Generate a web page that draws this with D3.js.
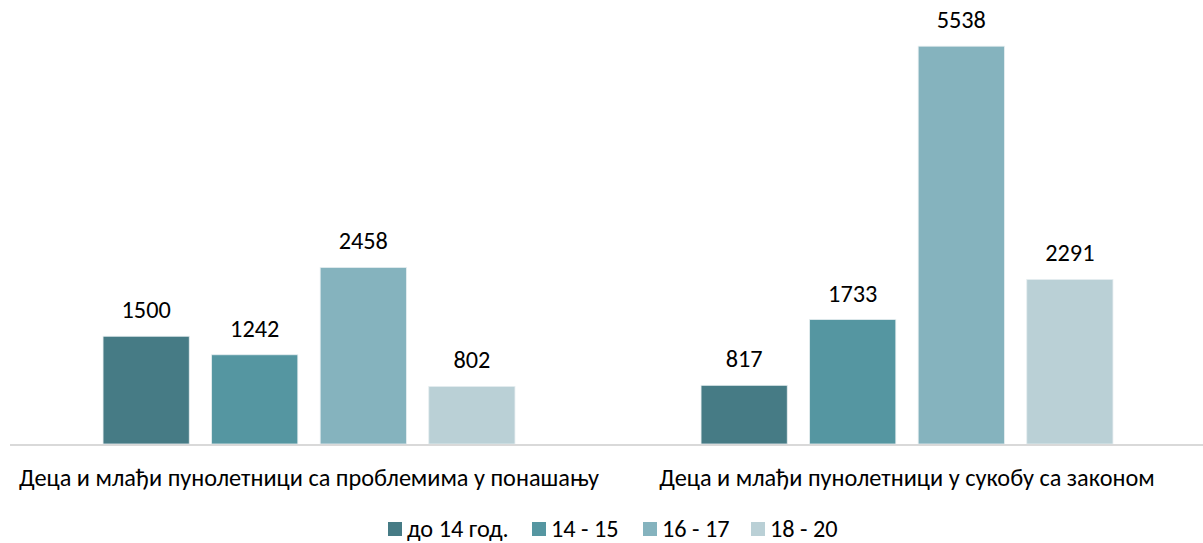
<!DOCTYPE html>
<html>
<head>
<meta charset="utf-8">
<script src="https://cdn.jsdelivr.net/npm/d3@7"></script>
<style>
  body { margin: 0; background: #fff; }
  text { font-family: Carlito, Calibri, Lato, sans-serif; fill: #000; }
</style>
</head>
<body>
<svg id="chart" width="1203" height="543"></svg>
<script>
var categories = ['Деца и млађи пунолетници са проблемима у понашању', 'Деца и млађи пунолетници у сукобу са законом']
var seriesNames = ['до 14 год.', '14 - 15', '16 - 17', '18 - 20']
var seriesColors = ['#467b85', '#5596a1', '#85b3be', '#bad0d6']
// values[series][category]
var values = [
  [1500, 817],
  [1242, 1733],
  [2458, 5538],
  [802, 2291]
]

var W = 1203
,   baseY = 444
,   topY = 13
,   fontSize = '24.3px'

var svg = d3.select('#chart')

var x0 = d3.scaleBand().domain(categories).range([10, 1206]).padding(0)
var x1 = d3.scaleBand().domain(seriesNames).range([0, x0.bandwidth()])
  .paddingInner(0.206).paddingOuter(0.857)
var y = d3.scaleLinear().domain([0, 6000]).range([baseY, topY])

var rows = []
categories.forEach((c, ci) => {
  seriesNames.forEach((s, si) => {
    rows.push({cat: c, series: s, si: si, v: values[si][ci]})
  })
})

svg.selectAll('.bar')
  .data(rows)
  .enter()
  .append('rect')
  .attr('class', 'bar')
  .attr('x', (d) => x0(d.cat) + x1(d.series))
  .attr('y', (d) => y(d.v))
  .attr('width', x1.bandwidth())
  .attr('height', (d) => baseY - y(d.v))
  .attr('fill', (d) => seriesColors[d.si])
  .attr('stroke', '#e6eef0')
  .attr('stroke-width', 0.8)

svg.selectAll('.val')
  .data(rows)
  .enter()
  .append('text')
  .attr('class', 'val')
  .attr('x', (d) => x0(d.cat) + x1(d.series) + x1.bandwidth() / 2)
  .attr('y', (d) => y(d.v) - 18)
  .attr('text-anchor', 'middle')
  .style('font-size', fontSize)
  .text((d) => d.v)

// baseline
svg.append('line')
  .attr('x1', 10).attr('x2', W)
  .attr('y1', baseY + 1).attr('y2', baseY + 1)
  .attr('stroke', '#d9d9d9')
  .attr('stroke-width', 2)

svg.selectAll('.cat')
  .data(categories)
  .enter()
  .append('text')
  .attr('class', 'cat')
  .attr('x', (d) => x0(d) + x0.bandwidth() / 2)
  .attr('y', 486)
  .attr('text-anchor', 'middle')
  .style('font-size', fontSize)
  .text((d) => d)

// legend
var legendX = [388, 532, 643, 751]
var legend = svg.selectAll('.legend')
  .data(seriesNames)
  .enter()
  .append('g')
  .attr('class', 'legend')
  .attr('transform', (d, i) => 'translate(' + legendX[i] + ',522)')

legend.append('rect')
  .attr('width', 14).attr('height', 14)
  .attr('fill', (d, i) => seriesColors[i])

legend.append('text')
  .attr('x', 19)
  .attr('y', 15)
  .style('font-size', fontSize)
  .text((d) => d)
</script>
</body>
</html>
